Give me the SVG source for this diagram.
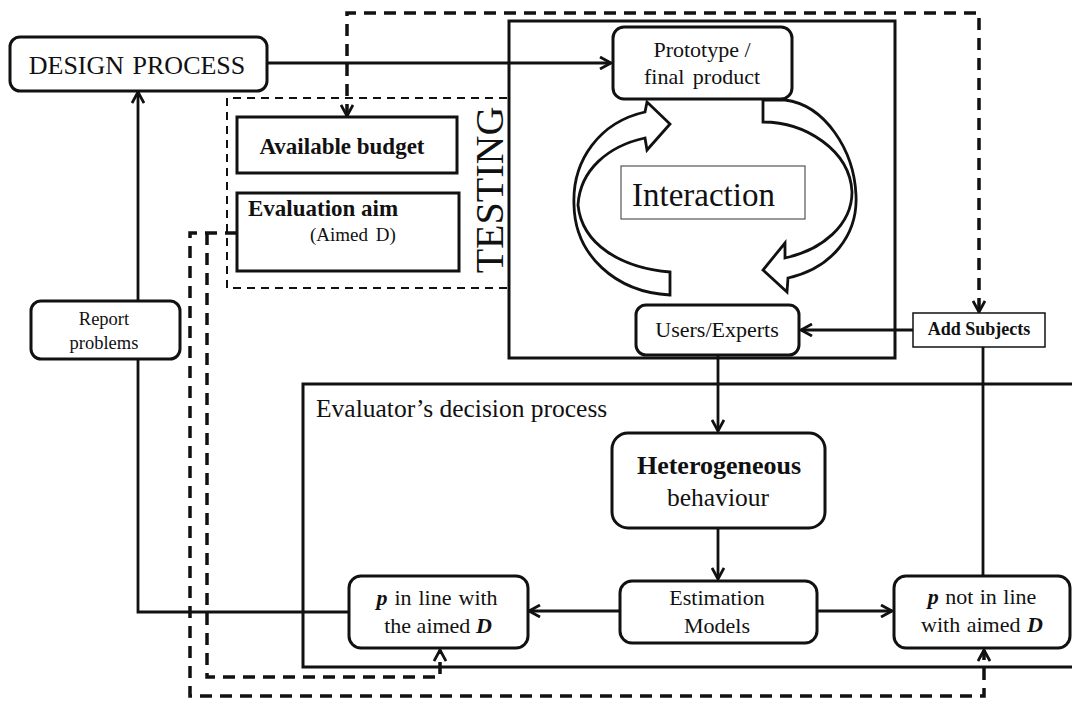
<svg xmlns="http://www.w3.org/2000/svg" width="1072" height="702" viewBox="0 0 1072 702">
<style>
text{font-family:"Liberation Serif","Times New Roman",serif;fill:#111}
.box{fill:#fff;stroke:#111;stroke-width:3}
.frame{fill:none;stroke:#111;stroke-width:3}
.line{fill:none;stroke:#111;stroke-width:2.8}
.dash{fill:none;stroke:#111;stroke-width:3.5;stroke-dasharray:12 8}
.thindash{fill:none;stroke:#111;stroke-width:2;stroke-dasharray:8 6}
.loop{fill:#fff;stroke:#111;stroke-width:2.8;stroke-linejoin:miter}
.b{font-weight:bold}
.bi{font-weight:bold;font-style:italic}
</style>
<defs>
<marker id="arr" viewBox="0 0 14 14" refX="12" refY="7" markerWidth="14" markerHeight="14" markerUnits="userSpaceOnUse" orient="auto-start-reverse">
<path d="M1,1 L12,7 L1,13" fill="none" stroke="#111" stroke-width="2.8"/>
</marker>
</defs>
<rect width="1072" height="702" fill="#fff"/>

<g id="testing-frame">
<path class="thindash" d="M507,98 H227 V288 H507"/>
<rect class="frame" x="509" y="21" width="386" height="337"/>
<text transform="translate(503,190) rotate(-90)" text-anchor="middle" font-size="40">TESTING</text>
</g>

<g id="evaluator-frame">
<path class="frame" d="M1080,384 H303 V667 H1080"/>
<text x="316" y="417" font-size="25.5">Evaluator’s decision process</text>
</g>

<g id="connectors">
<path class="line" d="M267,63 H611" marker-end="url(#arr)"/>
<path class="line" d="M718,355 V431" marker-end="url(#arr)"/>
<path class="line" d="M718,528 V579" marker-end="url(#arr)"/>
<path class="line" d="M620,611 H529" marker-end="url(#arr)"/>
<path class="line" d="M817,611 H892" marker-end="url(#arr)"/>
<path class="line" d="M913,330 H801" marker-end="url(#arr)"/>
<path class="line" d="M983,576 V347"/>
<path class="line" d="M349,612 H138 V359"/>
<path class="line" d="M138,301 V92" marker-end="url(#arr)"/>
<path class="dash" d="M347,116 V13 H979 V312" marker-start="url(#arr)" marker-end="url(#arr)"/>
<path class="dash" d="M237,233 H190 V696 H984 V650" marker-end="url(#arr)"/>
<path class="dash" d="M207,233 V677 H440 V650" marker-end="url(#arr)"/>
</g>

<g id="interaction-loop">
<path class="loop" d="M670,295 L670,272 C622,268 582,245 578,205 C580,170 608,146 645,138 L647,150 L670,124 L647,102 L645,112 C600,122 572,160 574,205 C575,255 615,292 670,295 Z"/>
<path class="loop" d="M763,100 L763,122 C805,122 850,150 852,192 C852,225 822,250 785,258 L785,243 L763,270 L787,292 L788,278 C832,268 858,235 856,195 C854,150 825,105 785,100 Z"/>
</g>

<g id="design-process">
<rect class="box" x="10" y="37" width="257" height="54" rx="10"/>
<text x="137" y="74" font-size="26" text-anchor="middle" word-spacing="2">DESIGN PROCESS</text>
</g>

<g id="prototype">
<rect class="box" x="613" y="27" width="179" height="72" rx="11"/>
<text x="702" y="57" font-size="22" text-anchor="middle">Prototype /</text>
<text x="702" y="84" font-size="22" text-anchor="middle" word-spacing="3">final product</text>
</g>

<g id="interaction">
<rect x="621" y="166" width="184" height="53" fill="#fff" stroke="#555" stroke-width="1.2"/>
<text x="632" y="206" font-size="33">Interaction</text>
</g>

<g id="users-experts">
<rect class="box" x="636" y="305" width="163" height="50" rx="10"/>
<text x="717" y="337" font-size="22" text-anchor="middle">Users/Experts</text>
</g>

<g id="add-subjects">
<rect x="913" y="313" width="132" height="34" fill="#fff" stroke="#111" stroke-width="1.5"/>
<text x="979" y="335" font-size="18" class="b" text-anchor="middle">Add Subjects</text>
</g>

<g id="available-budget">
<rect class="box" x="237" y="117" width="220" height="56"/>
<text x="342" y="154" font-size="23" class="b" text-anchor="middle">Available budget</text>
</g>

<g id="evaluation-aim">
<rect class="box" x="237" y="193" width="222" height="78"/>
<text x="248" y="216" font-size="23" class="b">Evaluation aim</text>
<text x="310" y="241" font-size="19" word-spacing="3">(Aimed D)</text>
</g>

<g id="report-problems">
<rect class="box" x="31" y="301" width="149" height="58" rx="10"/>
<text x="104" y="325" font-size="18.5" text-anchor="middle">Report</text>
<text x="104" y="349" font-size="18.5" text-anchor="middle">problems</text>
</g>

<g id="heterogeneous">
<rect class="box" x="612" y="433" width="213" height="95" rx="16"/>
<text x="719" y="474" font-size="26" class="b" text-anchor="middle">Heterogeneous</text>
<text x="718" y="506" font-size="25.5" text-anchor="middle">behaviour</text>
</g>

<g id="estimation-models">
<rect class="box" x="620" y="581" width="197" height="62" rx="12"/>
<text x="717" y="605" font-size="22" text-anchor="middle">Estimation</text>
<text x="717" y="633" font-size="22" text-anchor="middle">Models</text>
</g>

<g id="p-in-line">
<rect class="box" x="349" y="576" width="179" height="72" rx="12"/>
<text x="437" y="605" font-size="22" text-anchor="middle" word-spacing="1.5"><tspan class="bi">p</tspan> in line with</text>
<text x="438" y="633" font-size="22" text-anchor="middle">the aimed <tspan class="bi">D</tspan></text>
</g>

<g id="p-not-in-line">
<rect class="box" x="894" y="576" width="176" height="72" rx="12"/>
<text x="982" y="604" font-size="22" text-anchor="middle" word-spacing="1"><tspan class="bi">p</tspan> not in line</text>
<text x="982" y="632" font-size="22" text-anchor="middle" word-spacing="1">with aimed <tspan class="bi">D</tspan></text>
</g>
</svg>
